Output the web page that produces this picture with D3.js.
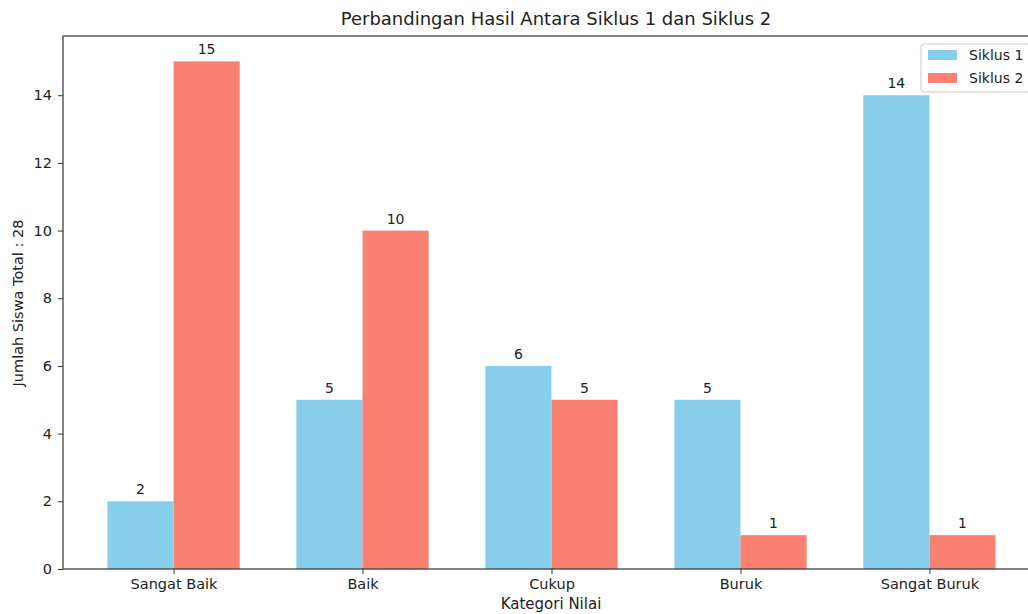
<!DOCTYPE html>
<html>
<head>
<meta charset="utf-8">
<script src="https://cdn.jsdelivr.net/npm/d3@7"></script>
<style>
  body { margin: 0; background: #fff; }
  svg { font-family: "DejaVu Sans", sans-serif; }
</style>
</head>
<body>
<div id="chart"></div>
<script>
// data
var categories = ["Sangat Baik", "Baik", "Cukup", "Buruk", "Sangat Buruk"];
var siklus1 = [2, 5, 6, 5, 14];
var siklus2 = [15, 10, 5, 1, 1];
var seriesNames = ["Siklus 1", "Siklus 2"];
var seriesColors = ["#87CEEB", "#FA8072"];
var yTicks = [0, 2, 4, 6, 8, 10, 12, 14];

var w = 1028, h = 614;
var plotLeft = 63, plotRight = 1040, plotTop = 36, plotBottom = 569;
var barW = 0.35;

var svg = d3.select("#chart").append("svg")
  .attr("width", w).attr("height", h);

// x as a linear scale on category index, like matplotlib
var xScale = d3.scaleLinear()
  .domain([-0.585, 4.585])
  .range([plotLeft, plotRight]);

var yScale = d3.scaleLinear()
  .domain([0, 15.75])
  .range([plotBottom, plotTop]);

var rows = [];
categories.forEach(function(c, i) {
  rows.push({ i: i, s: 0, v: siklus1[i] });
  rows.push({ i: i, s: 1, v: siklus2[i] });
});

// bars
svg.selectAll("rect.bar")
  .data(rows)
  .enter()
  .append("rect")
  .attr("class", "bar")
  .attr("x", function(d) { return xScale(d.i + (d.s === 0 ? -barW : 0)); })
  .attr("y", function(d) { return yScale(d.v); })
  .attr("width", function(d) { return xScale(barW) - xScale(0); })
  .attr("height", function(d) { return yScale(0) - yScale(d.v); })
  .attr("fill", function(d) { return seriesColors[d.s]; });

// value labels
svg.selectAll("text.val")
  .data(rows)
  .enter()
  .append("text")
  .attr("class", "val")
  .attr("x", function(d) { return xScale(d.i + (d.s === 0 ? -barW / 2 : barW / 2)); })
  .attr("y", function(d) { return yScale(d.v) - 7; })
  .attr("text-anchor", "middle")
  .attr("font-size", 14)
  .attr("fill", "#222")
  .text(function(d) { return d.v; });

// axes
var xAxis = d3.axisBottom(xScale)
  .tickValues(d3.range(categories.length))
  .tickFormat(function(d) { return categories[d]; })
  .tickSize(5).tickPadding(5);

var yAxis = d3.axisLeft(yScale)
  .tickValues(yTicks)
  .tickSize(5).tickPadding(6);

var gx = svg.append("g")
  .attr("class", "x axis")
  .attr("transform", "translate(0," + plotBottom + ")")
  .call(xAxis);
gx.select(".domain").remove();

var gy = svg.append("g")
  .attr("class", "y axis")
  .attr("transform", "translate(" + plotLeft + ",0)")
  .call(yAxis);
gy.select(".domain").remove();

svg.selectAll(".axis text").attr("font-size", 14.5).attr("fill", "#222")
  .attr("font-family", "DejaVu Sans, sans-serif");
svg.selectAll(".axis line").attr("stroke", "#333");

// frame
svg.append("rect")
  .attr("x", plotLeft).attr("y", plotTop)
  .attr("width", plotRight - plotLeft).attr("height", plotBottom - plotTop)
  .attr("fill", "none").attr("stroke", "#333").attr("stroke-width", 1.2);

// title and labels
svg.append("text")
  .attr("x", 556).attr("y", 25)
  .attr("text-anchor", "middle").attr("font-size", 18).attr("fill", "#222")
  .text("Perbandingan Hasil Antara Siklus 1 dan Siklus 2");

svg.append("text")
  .attr("x", 551).attr("y", 609)
  .attr("text-anchor", "middle").attr("font-size", 15).attr("fill", "#222")
  .text("Kategori Nilai");

svg.append("text")
  .attr("transform", "translate(23,303)rotate(-90)")
  .attr("text-anchor", "middle").attr("font-size", 14.5).attr("fill", "#222")
  .text("Jumlah Siswa Total : 28");

// legend
var lg = svg.append("g").attr("transform", "translate(921,44)");
lg.append("rect")
  .attr("width", 120).attr("height", 48).attr("rx", 3)
  .attr("fill", "#fff").attr("fill-opacity", 0.8)
  .attr("stroke", "#ccc");
seriesNames.forEach(function(n, i) {
  lg.append("rect")
    .attr("x", 7).attr("y", 6 + i * 23)
    .attr("width", 29).attr("height", 10)
    .attr("fill", seriesColors[i]);
  lg.append("text")
    .attr("x", 48).attr("y", 16 + i * 23)
    .attr("font-size", 14).attr("fill", "#222")
    .text(n);
});
</script>
</body>
</html>
